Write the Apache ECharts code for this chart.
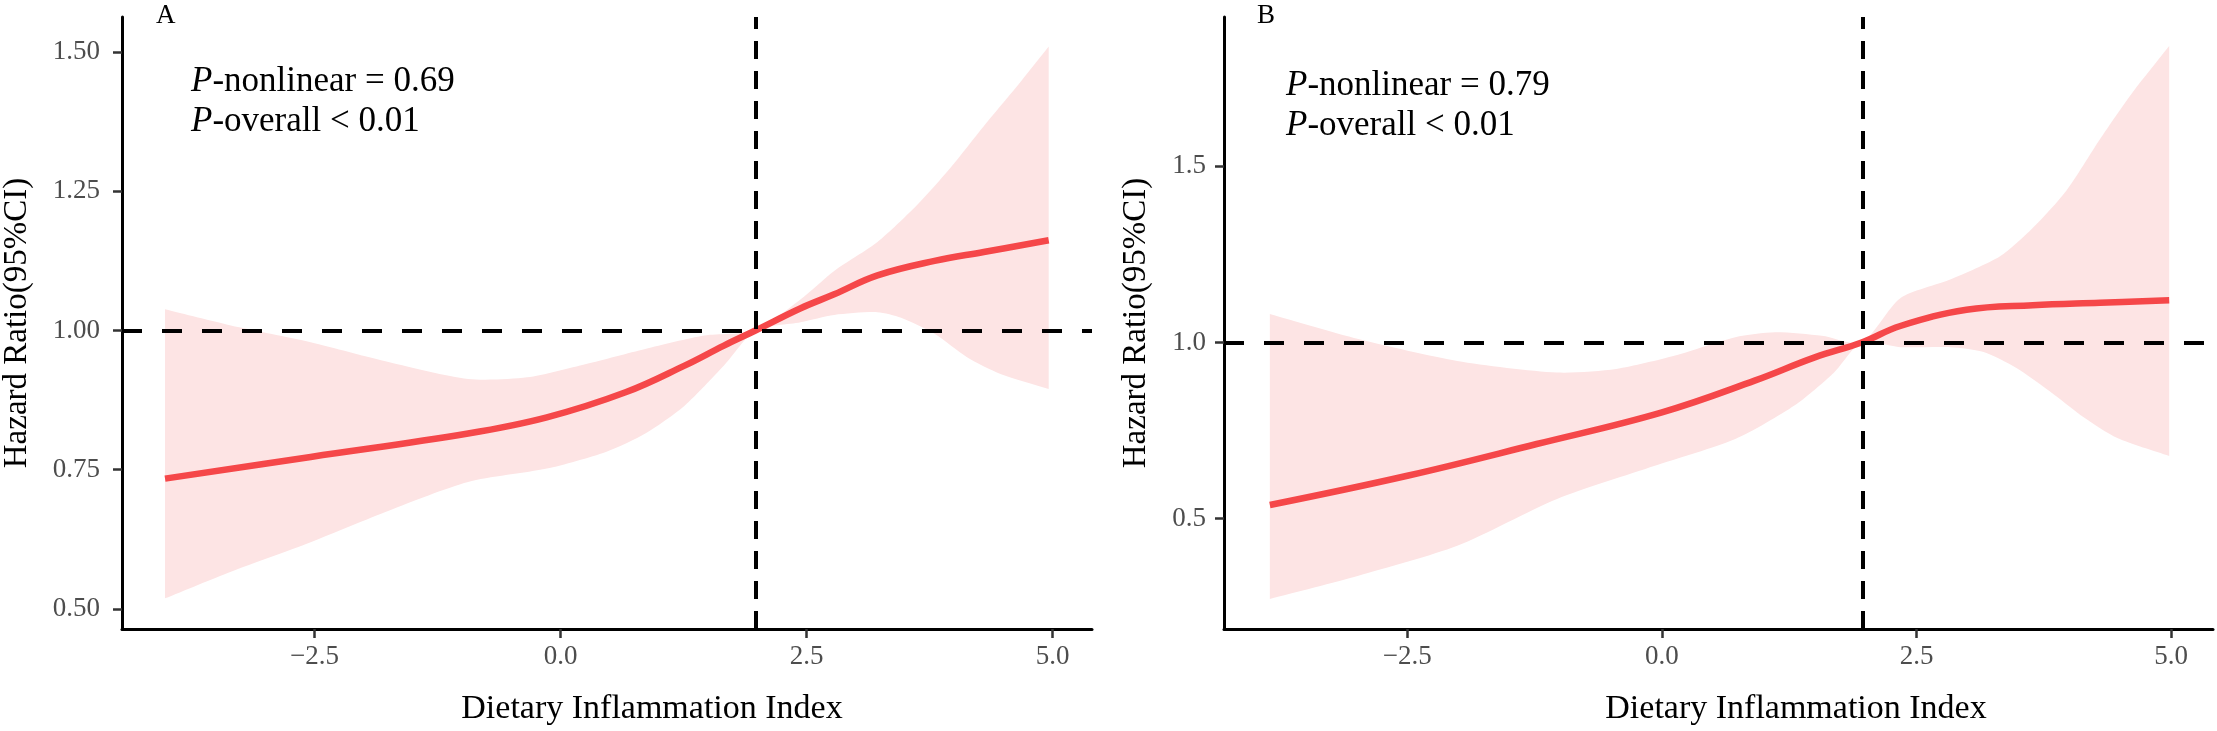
<!DOCTYPE html>
<html>
<head>
<meta charset="utf-8">
<title>Dietary Inflammation Index - Hazard Ratio</title>
<script src="https://cdn.jsdelivr.net/npm/echarts@6.0.0/dist/echarts.min.js"></script>
<style>
  html, body { margin: 0; padding: 0; background: #fff; }
  #chart { width: 2217px; height: 731px; }
</style>
</head>
<body>
<div id="chart"></div>
<script>
// --- Data ---

// Panel A: [DII, HR]
const lineA = [[-4.02, 0.734], [-2.54, 0.773], [-0.94, 0.815], [-0.14, 0.844], [0.66, 0.889],
  [1.26, 0.937], [1.66, 0.973], [1.98, 1.0], [2.44, 1.04], [2.78, 1.065], [3.22, 1.099],
  [3.80, 1.125], [4.30, 1.141], [4.96, 1.162]];
const upperA = [[-4.02, 1.038], [-3.35, 1.009], [-2.54, 0.979], [-1.74, 0.943], [-0.94, 0.913],
  [-0.34, 0.916], [0.26, 0.940], [0.86, 0.967], [1.46, 0.991], [1.98, 1.0], [2.44, 1.056],
  [2.78, 1.107], [3.22, 1.159], [3.62, 1.225], [3.96, 1.292], [4.30, 1.367], [4.64, 1.439],
  [4.96, 1.51]];
const lowerA = [[-4.02, 0.519], [-3.35, 0.567], [-2.54, 0.620], [-1.74, 0.677], [-0.94, 0.728],
  [-0.14, 0.752], [0.46, 0.782], [0.86, 0.815], [1.26, 0.865], [1.66, 0.937], [1.98, 1.0],
  [2.44, 1.015], [2.78, 1.028], [3.22, 1.033], [3.46, 1.023], [3.80, 0.994], [4.13, 0.952],
  [4.47, 0.922], [4.96, 0.895]];
const refXA = 1.98;

// Panel B
const lineB = [[-3.85, 0.539], [-2.5, 0.622], [-1.23, 0.712], [0.0, 0.802], [0.91, 0.892],
  [1.50, 0.958], [1.96, 1.0], [2.34, 1.047], [2.99, 1.093], [3.64, 1.106], [4.30, 1.113],
  [4.98, 1.120]];
const upperB = [[-3.85, 1.081], [-2.98, 1.010], [-2.01, 0.948], [-1.03, 0.915], [-0.45, 0.925],
  [0.13, 0.963], [0.72, 1.015], [1.11, 1.029], [1.57, 1.019], [1.96, 1.0], [2.34, 1.126],
  [2.83, 1.179], [3.32, 1.245], [3.64, 1.325], [3.97, 1.431], [4.30, 1.577], [4.62, 1.71],
  [4.98, 1.842]];
const lowerB = [[-3.85, 0.272], [-2.98, 0.338], [-2.01, 0.423], [-1.03, 0.556], [-0.07, 0.650],
  [0.72, 0.726], [1.30, 0.821], [1.69, 0.915], [1.96, 1.0], [2.34, 0.987], [2.83, 0.987],
  [3.15, 0.974], [3.48, 0.928], [3.81, 0.861], [4.14, 0.788], [4.47, 0.729], [4.98, 0.678]];
const refXB = 1.97;

const refY = 1;
const xTicks = [-2.5, 0, 2.5, 5];
const yTicksA = [0.5, 0.75, 1.0, 1.25, 1.5];
const yTicksB = [0.5, 1.0, 1.5];
const annotA = ['0.69', '< 0.01'];
const annotB = ['0.79', '< 0.01'];

// --- Styling ---

const FONT = 'Liberation Serif';
const RED = '#F54749';
const BAND = '#FDE4E4';

// CI ribbon: upper edge left->right, then lower edge back.
// End points are doubled so the smoothing keeps the vertical ends straight.
const makeBand = (upper, lower) => (params, api) => {
  const up = upper.map(p => api.coord(p));
  const lo = lower.slice().reverse().map(p => api.coord(p));
  const pts = [up[0], ...up, up[up.length - 1], lo[0], ...lo, lo[lo.length - 1]];
  return { type: 'polygon', shape: { points: pts, smooth: 0.25 }, style: { fill: BAND } };
};

const xAxisCfg = (gridIndex, min, max, namePad) => ({
  type: 'value', gridIndex, min, max,
  name: 'Dietary Inflammation Index', nameLocation: 'middle', nameGap: 63,
  nameTextStyle: { fontFamily: FONT, fontSize: 34, color: '#000', padding: [0, 0, 0, namePad] },
  axisLine: { show: true, onZero: false, lineStyle: { color: '#000', width: 3 } },
  axisTick: { show: true, length: 9, customValues: xTicks, lineStyle: { color: '#333', width: 2.5 } },
  axisLabel: {
    customValues: xTicks, margin: 14, fontFamily: FONT, fontSize: 27, color: '#4D4D4D',
    formatter: v => v.toFixed(1).replace('-', '\u2212')
  },
  splitLine: { show: false }
});

const yAxisCfg = (gridIndex, min, max, ticks, digits, gap, margin) => ({
  type: 'value', gridIndex, min, max,
  name: 'Hazard Ratio(95%CI)', nameLocation: 'middle', nameGap: gap,
  nameTextStyle: { fontFamily: FONT, fontSize: 33, color: '#000' },
  axisLine: { show: true, onZero: false, lineStyle: { color: '#000', width: 3 } },
  axisTick: { show: true, length: 9, customValues: ticks, lineStyle: { color: '#333', width: 2.5 } },
  axisLabel: {
    customValues: ticks, margin, fontFamily: FONT, fontSize: 27, color: '#4D4D4D',
    formatter: v => v.toFixed(digits)
  },
  splitLine: { show: false }
});

const refLines = (refX) => ({
  silent: true, symbol: ['none', 'none'], label: { show: false },
  data: [
    { yAxis: refY, lineStyle: { color: '#000', width: 4, type: [20, 20] } },
    { xAxis: refX, lineStyle: { color: '#000', width: 4, type: [18, 12] } }
  ]
});

const annot = (left, top, vals) => ({
  left, top, padding: 0,
  text: `{i|P}-nonlinear = ${vals[0]}\n{i|P}-overall ${vals[1]}`,
  textStyle: {
    fontFamily: FONT, fontSize: 35, fontWeight: 'normal', color: '#000', lineHeight: 40,
    rich: { i: { fontFamily: FONT, fontSize: 35, fontStyle: 'italic', color: '#000', lineHeight: 40 } }
  }
});

const panelLabel = (left, text) => ({
  left, top: 2, padding: 0, text,
  textStyle: { fontFamily: FONT, fontSize: 27, fontWeight: 'normal', color: '#000' }
});

const chart = echarts.init(document.getElementById('chart'));
chart.setOption({
  animation: false,
  backgroundColor: '#fff',
  title: [
    panelLabel(156, 'A'), panelLabel(1257, 'B'),
    annot(191, 62, annotA), annot(1286, 66, annotB)
  ],
  grid: [
    { left: 119, top: 17, width: 973, height: 613 },
    { left: 1224, top: 17, width: 989, height: 613 }
  ],
  xAxis: [xAxisCfg(0, -4.457, 5.40, 90), xAxisCfg(1, -4.30, 5.41, 155)],
  yAxis: [
    yAxisCfg(0, 0.464, 1.563, yTicksA, 2, 88, 22),
    yAxisCfg(1, 0.187, 1.924, yTicksB, 1, 71, 18)
  ],
  series: [
    { type: 'custom', xAxisIndex: 0, yAxisIndex: 0, data: [0], renderItem: makeBand(upperA, lowerA), silent: true, z: 1 },
    { type: 'line', xAxisIndex: 0, yAxisIndex: 0, data: lineA, smooth: 0.4, symbol: 'none',
      lineStyle: { color: RED, width: 6.5 }, z: 2, markLine: refLines(refXA) },
    { type: 'custom', xAxisIndex: 1, yAxisIndex: 1, data: [0], renderItem: makeBand(upperB, lowerB), silent: true, z: 1 },
    { type: 'line', xAxisIndex: 1, yAxisIndex: 1, data: lineB, smooth: 0.4, symbol: 'none',
      lineStyle: { color: RED, width: 6.5 }, z: 2, markLine: refLines(refXB) }
  ]
});
</script>
</body>
</html>
